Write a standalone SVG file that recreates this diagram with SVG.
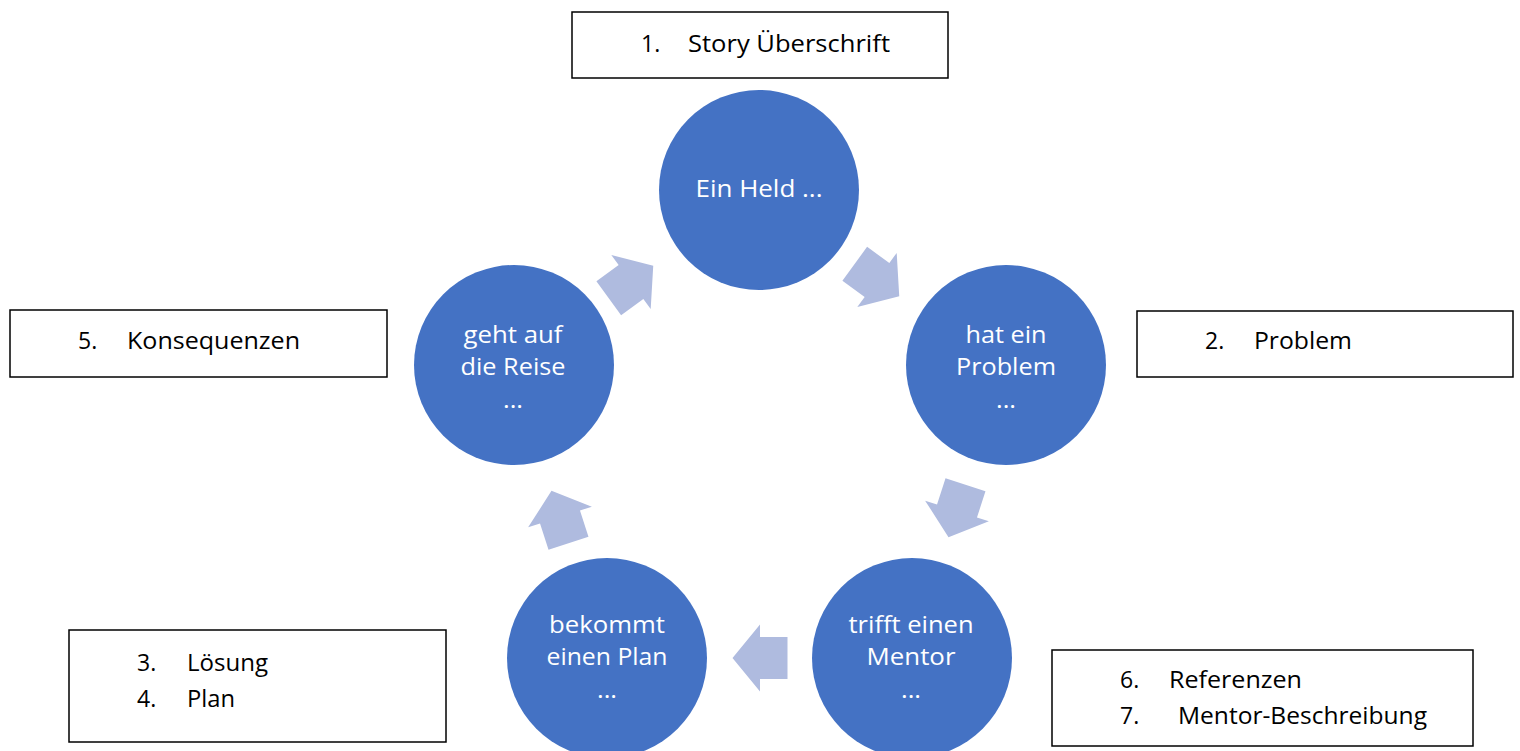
<svg xmlns="http://www.w3.org/2000/svg" width="1520" height="751" viewBox="0 0 1520 751">
<style>
.circle{fill:#4472C4;}
.arrow{fill:#AFBBDF;}
.box{fill:#FFFFFF;stroke:#000000;stroke-width:1.5;}
.ct{font-family:"Open Sans","Liberation Sans",sans-serif;font-size:23px;fill:#FFFFFF;text-anchor:middle;}
.bt{font-family:"Open Sans","Liberation Sans",sans-serif;font-size:23px;fill:#000000;}
</style>
<defs>
<path id="blockArrow" d="M-27.5,-21 H0 V-33.5 L27.5,0 L0,33.5 V21 H-27.5 Z"/>
</defs>
<rect width="1520" height="751" fill="#FFFFFF"/>
<g id="connectors">
<use href="#blockArrow" class="arrow" transform="translate(877,280) rotate(36)"/>
<use href="#blockArrow" class="arrow" transform="translate(957,511) rotate(108)"/>
<use href="#blockArrow" class="arrow" transform="translate(760,658) rotate(180)"/>
<use href="#blockArrow" class="arrow" transform="translate(560,517) rotate(252)"/>
<use href="#blockArrow" class="arrow" transform="translate(631,282) rotate(324)"/>
</g>
<g id="node-held">
<circle class="circle" cx="759" cy="190" r="100"/>
<text class="ct" x="759" y="197" textLength="127" lengthAdjust="spacingAndGlyphs">Ein Held ...</text>
</g>
<g id="node-problem">
<circle class="circle" cx="1006" cy="365" r="100"/>
<text class="ct" x="1006" y="343" textLength="81" lengthAdjust="spacingAndGlyphs">hat ein</text>
<text class="ct" x="1006" y="375" textLength="100" lengthAdjust="spacingAndGlyphs">Problem</text>
<text class="ct" x="1006" y="408" textLength="20" lengthAdjust="spacingAndGlyphs">...</text>
</g>
<g id="node-mentor">
<circle class="circle" cx="912" cy="658" r="100"/>
<text class="ct" x="911" y="633" textLength="125" lengthAdjust="spacingAndGlyphs">trifft einen</text>
<text class="ct" x="911" y="665" textLength="89" lengthAdjust="spacingAndGlyphs">Mentor</text>
<text class="ct" x="911" y="698" textLength="20" lengthAdjust="spacingAndGlyphs">...</text>
</g>
<g id="node-plan">
<circle class="circle" cx="607" cy="658" r="100"/>
<text class="ct" x="607" y="633" textLength="116" lengthAdjust="spacingAndGlyphs">bekommt</text>
<text class="ct" x="607" y="665" textLength="121" lengthAdjust="spacingAndGlyphs">einen Plan</text>
<text class="ct" x="607" y="698" textLength="20" lengthAdjust="spacingAndGlyphs">...</text>
</g>
<g id="node-reise">
<circle class="circle" cx="514" cy="365" r="100"/>
<text class="ct" x="513" y="343" textLength="99" lengthAdjust="spacingAndGlyphs">geht auf</text>
<text class="ct" x="513" y="375" textLength="105" lengthAdjust="spacingAndGlyphs">die Reise</text>
<text class="ct" x="513" y="408" textLength="20" lengthAdjust="spacingAndGlyphs">...</text>
</g>
<g id="box-1">
<rect class="box" x="572" y="12" width="376" height="66"/>
<text class="bt" x="641" y="52">1.</text>
<text class="bt" x="688" y="52" textLength="202" lengthAdjust="spacingAndGlyphs">Story Überschrift</text>
</g>
<g id="box-2">
<rect class="box" x="1137" y="311" width="376" height="66"/>
<text class="bt" x="1205" y="349">2.</text>
<text class="bt" x="1254" y="349" textLength="98" lengthAdjust="spacingAndGlyphs">Problem</text>
</g>
<g id="box-5">
<rect class="box" x="10" y="310" width="377" height="67"/>
<text class="bt" x="78" y="349">5.</text>
<text class="bt" x="127" y="349" textLength="173" lengthAdjust="spacingAndGlyphs">Konsequenzen</text>
</g>
<g id="box-3-4">
<rect class="box" x="69" y="630" width="377" height="112"/>
<text class="bt" x="137" y="671">3.</text>
<text class="bt" x="187" y="671" textLength="81" lengthAdjust="spacingAndGlyphs">Lösung</text>
<text class="bt" x="137" y="707">4.</text>
<text class="bt" x="187" y="707" textLength="48" lengthAdjust="spacingAndGlyphs">Plan</text>
</g>
<g id="box-6-7">
<rect class="box" x="1052" y="650" width="421" height="96"/>
<text class="bt" x="1120" y="688">6.</text>
<text class="bt" x="1169" y="688" textLength="133" lengthAdjust="spacingAndGlyphs">Referenzen</text>
<text class="bt" x="1120" y="724">7.</text>
<text class="bt" x="1178" y="724" textLength="249" lengthAdjust="spacingAndGlyphs">Mentor-Beschreibung</text>
</g>
</svg>
